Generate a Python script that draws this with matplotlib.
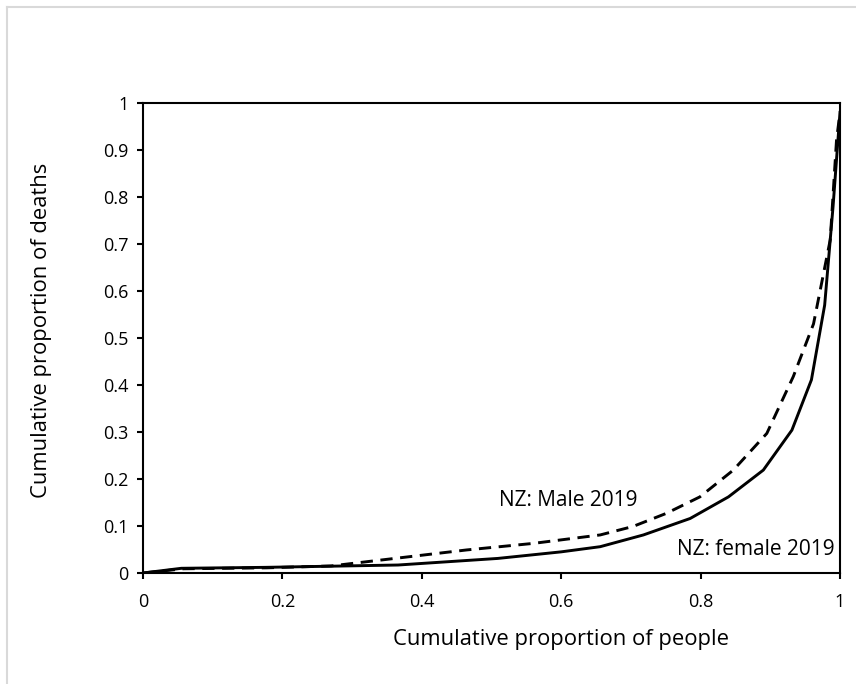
import matplotlib
matplotlib.use("Agg")
import matplotlib.pyplot as plt
from matplotlib.lines import Line2D

# cumulative proportion of people (x) vs cumulative proportion of deaths (y)
female_x = [0, 0.055, 0.175, 0.366, 0.509, 0.6, 0.656, 0.718, 0.785, 0.840, 0.890, 0.931, 0.959, 0.978, 0.990, 0.996, 1.0]
female_y = [0, 0.010, 0.012, 0.017, 0.031, 0.045, 0.056, 0.081, 0.116, 0.162, 0.219, 0.304, 0.411, 0.57, 0.779, 0.9, 0.98]

male_x = [0, 0.058, 0.177, 0.27, 0.321, 0.464, 0.56, 0.656, 0.703, 0.751, 0.799, 0.847, 0.895, 0.933, 0.962, 0.986, 0.995, 1.0]
male_y = [0, 0.009, 0.011, 0.015, 0.024, 0.049, 0.063, 0.081, 0.099, 0.127, 0.162, 0.219, 0.297, 0.418, 0.53, 0.709, 0.921, 0.98]

ticks = [0, 0.1, 0.2, 0.3, 0.4, 0.5, 0.6, 0.7, 0.8, 0.9, 1]
xticks = [0, 0.2, 0.4, 0.6, 0.8, 1]

plt.rcParams['font.family'] = ['Open Sans', 'DejaVu Sans']

fig = plt.figure(figsize=(8.56, 6.84), dpi=100)
ax = fig.add_axes([143/856, 1-573/684, 697/856, 470/684])

ax.plot(female_x, female_y, color='black', lw=2.1, solid_joinstyle='round')
ax.plot(male_x, male_y, color='black', lw=2.1, linestyle=(0, (4.2, 2.6)))

ax.set_xlim(0, 1)
ax.set_ylim(0, 1)
ax.set_xticks(xticks)
ax.set_xticklabels(['0', '0.2', '0.4', '0.6', '0.8', '1'])
ax.set_yticks(ticks)
ax.set_yticklabels(['0', '0.1', '0.2', '0.3', '0.4', '0.5', '0.6', '0.7', '0.8', '0.9', '1'])
ax.tick_params(direction='out', length=4.5, width=1.5, labelsize=13, color='black')
ax.tick_params(axis='y', pad=6)
ax.tick_params(axis='x', pad=10)
for s in ax.spines.values():
    s.set_linewidth(1.5)
    s.set_color('black')

ax.text(0.61, 0.155, 'NZ: Male 2019', fontsize=15, ha='center', va='center')
ax.text(0.992, 0.049, 'NZ: female 2019', fontsize=15, ha='right', va='center')

fig.text(561/856, 1-640/684, 'Cumulative proportion of people', fontsize=15.8, ha='center', va='center')
fig.text(42/856, 1-330/684, 'Cumulative proportion of deaths', fontsize=15.8, ha='center', va='center', rotation=90)

# light frame around the chart area
fig.add_artist(Line2D([7/856, 1], [1-7/684, 1-7/684], color='#d9d9d9', lw=1.5))
fig.add_artist(Line2D([7/856, 7/856], [0, 1-7/684], color='#d9d9d9', lw=1.5))

fig.savefig('out.png', dpi=100)
